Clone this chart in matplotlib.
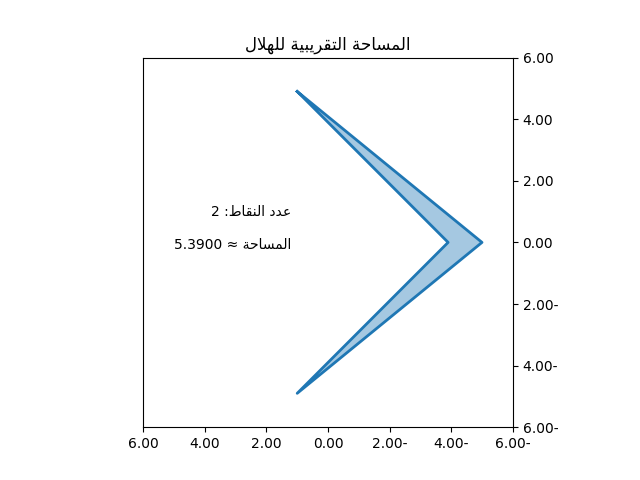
import matplotlib
matplotlib.use("Agg")
import matplotlib.pyplot as plt
from matplotlib.ticker import FuncFormatter, MultipleLocator

# ==========================================
# 資料
# ==========================================
outer_x = [1.0, -5.0, 1.0]
outer_y = [4.9, 0.0, -4.9]
inner_x = [1.0, -3.9, 1.0]
inner_y = [4.9, 0.0, -4.9]
n_points = 2
area = 5.39

title_text = "المساحة التقريبية للهلال"
points_text = "عدد النقاط"
area_text = "المساحة"

# ==========================================
# 簡易阿拉伯字形連寫 (iso, fin, ini, med)
# ==========================================
FORMS = {
    "ا": ("\uFE8D", "\uFE8E", None, None),
    "ب": ("\uFE8F", "\uFE90", "\uFE91", "\uFE92"),
    "ت": ("\uFE95", "\uFE96", "\uFE97", "\uFE98"),
    "ح": ("\uFEA1", "\uFEA2", "\uFEA3", "\uFEA4"),
    "د": ("\uFEA9", "\uFEAA", None, None),
    "ر": ("\uFEAD", "\uFEAE", None, None),
    "س": ("\uFEB1", "\uFEB2", "\uFEB3", "\uFEB4"),
    "ط": ("\uFEC1", "\uFEC2", "\uFEC3", "\uFEC4"),
    "ع": ("\uFEC9", "\uFECA", "\uFECB", "\uFECC"),
    "ق": ("\uFED5", "\uFED6", "\uFED7", "\uFED8"),
    "ل": ("\uFEDD", "\uFEDE", "\uFEDF", "\uFEE0"),
    "م": ("\uFEE1", "\uFEE2", "\uFEE3", "\uFEE4"),
    "ن": ("\uFEE5", "\uFEE6", "\uFEE7", "\uFEE8"),
    "ه": ("\uFEE9", "\uFEEA", "\uFEEB", "\uFEEC"),
    "ة": ("\uFE93", "\uFE94", None, None),
    "ي": ("\uFEF1", "\uFEF2", "\uFEF3", "\uFEF4"),
    "لا": ("\uFEFB", "\uFEFC", None, None),
}


def shape_word(word):
    # 先把 لا 合成一個字元單位
    units = []
    i = 0
    while i < len(word):
        if word[i:i + 2] == "لا":
            units.append("لا")
            i += 2
        else:
            units.append(word[i])
            i += 1
    out = []
    for k, u in enumerate(units):
        iso, fin, ini, med = FORMS[u]
        prev_joins = k > 0 and FORMS[units[k - 1]][2] is not None
        next_exists = k < len(units) - 1
        if prev_joins and next_exists and med:
            out.append(med)
        elif prev_joins:
            out.append(fin)
        elif next_exists and ini:
            out.append(ini)
        else:
            out.append(iso)
    return "".join(out)


def rtl(text):
    shaped = " ".join(shape_word(w) for w in text.split(" "))
    return shaped[::-1]


def rtl_number(v, pos):
    if abs(v) < 1e-9:
        return "0.00"
    if v < 0:
        return f"{-v:.2f}-"
    return f"{v:.2f}"


fig, ax = plt.subplots(figsize=(6.4, 4.8))

poly_x = outer_x + inner_x[::-1]
poly_y = outer_y + inner_y[::-1]
ax.fill(poly_x, poly_y, color="C0", alpha=0.4, linewidth=0)
ax.plot(poly_x + [poly_x[0]], poly_y + [poly_y[0]], color="C0", linewidth=2)

ax.set_xlim(6, -6)
ax.set_ylim(-6, 6)
ax.set_aspect("equal")
ax.xaxis.set_major_locator(MultipleLocator(2))
ax.yaxis.set_major_locator(MultipleLocator(2))
ax.xaxis.set_major_formatter(FuncFormatter(rtl_number))
ax.yaxis.set_major_formatter(FuncFormatter(rtl_number))
ax.yaxis.tick_right()

ax.set_title(rtl(title_text))
ax.text(1.2, 1.0, f"{n_points} :" + rtl(points_text), ha="right", va="center")
ax.text(1.2, -0.1, f"{area:.4f} ≈ " + rtl(area_text), ha="right", va="center")

fig.savefig("out.png", dpi=100)
